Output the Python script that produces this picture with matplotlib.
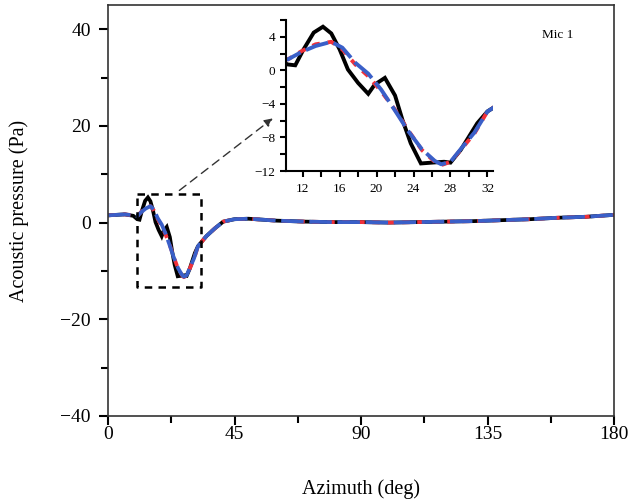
import matplotlib.pyplot as plt
from matplotlib.ticker import MultipleLocator

plt.rcParams['font.family'] = ['Liberation Serif', 'DejaVu Serif']

# azimuth grid (deg)
azimuth = [0, 3, 6, 9, 10.4, 11.2, 12.1, 13.2, 14.2, 15.1, 16.0, 16.9, 18.0, 19.1, 19.8,
           20.9, 22.0, 22.8, 23.7, 24.8, 26.0, 27.3, 28.0, 29.1, 30.0, 30.9, 32.0, 33,
           35, 38, 41, 45, 50, 60, 70, 80, 90, 100, 110, 120, 130, 140, 150, 160, 170, 180]
# measured (black)
p_meas = [1.5, 1.6, 1.7, 1.4, 0.7, 0.6, 2.5, 4.5, 5.2, 4.4, 2.5, 0.1, -1.5, -2.8, -1.7,
          -0.9, -3.0, -5.9, -8.7, -11.1, -11.0, -10.9, -11.0, -9.5, -7.9, -6.3, -4.9, -4.2,
          -2.8, -1.2, 0.2, 0.7, 0.8, 0.4, 0.2, 0.1, 0.1, 0.0, 0.1, 0.2, 0.3, 0.5, 0.7, 1.0, 1.2, 1.6]

# simulations (red / blue)
azimuth_sim = [0, 3, 6, 9, 10.4, 11.9, 13.4, 15.1, 16.3, 17.7, 19.1, 20.5, 22.0, 23.4,
               24.9, 26.3, 27.0, 28.0, 29.1, 30.6, 32.0, 33, 35, 38, 41, 45, 50, 60, 70,
               80, 90, 100, 110, 120, 130, 140, 150, 160, 170, 180]
p_red = [1.5, 1.6, 1.7, 1.5, 1.3, 2.3, 3.1, 3.4, 2.5, 0.7, -0.7, -2.5, -4.7, -7.1,
         -9.5, -10.9, -11.3, -10.9, -9.5, -7.5, -4.9, -4.2, -2.8, -1.2, 0.2, 0.7, 0.8,
         0.4, 0.2, 0.1, 0.1, 0.0, 0.1, 0.2, 0.3, 0.5, 0.7, 1.0, 1.2, 1.6]
p_blue = [1.5, 1.6, 1.7, 1.5, 1.3, 2.2, 2.9, 3.4, 2.7, 0.9, -0.4, -2.3, -4.8, -7.2,
          -9.4, -10.8, -11.2, -10.9, -9.4, -7.4, -4.9, -4.2, -2.8, -1.2, 0.2, 0.7, 0.8,
          0.4, 0.2, 0.1, 0.1, 0.0, 0.1, 0.2, 0.3, 0.5, 0.7, 1.0, 1.2, 1.6]

red = '#f0303a'
blue = '#3a5fc8'

fig = plt.figure(figsize=(6.31, 5.04), dpi=100)
ax = fig.add_axes([108 / 631, 1 - 416 / 504, (614 - 108) / 631, (416 - 5) / 504])

def draw(a, lw):
    a.plot(azimuth, p_meas, color='black', lw=lw, solid_joinstyle='miter')
    a.plot(azimuth_sim, p_red, color=red, lw=lw, ls=(0, (2, 2)))
    a.plot(azimuth_sim, p_blue, color=blue, lw=lw, ls=(0, (6, 1.5)))

draw(ax, 2.7)
ax.set_xlim(0, 180)
ax.set_ylim(-40, 45)
ax.xaxis.set_major_locator(MultipleLocator(45))
ax.xaxis.set_minor_locator(MultipleLocator(22.5))
ax.set_yticks([-40, -20, 0, 20, 40])
ax.yaxis.set_minor_locator(MultipleLocator(10))
ax.tick_params(which='major', direction='out', length=6.5, width=1.5, labelsize=14)
ax.tick_params(which='minor', direction='out', length=5, width=1.5)
ax.tick_params(axis='x', pad=1)
ax.tick_params(axis='y', pad=6)
for s in ax.spines.values():
    s.set_linewidth(1.2)
    s.set_color('#333333')
ax.set_xlabel('Azimuth (deg)', fontsize=14.5, labelpad=26)
ax.set_ylabel('Acoustic pressure (Pa)', fontsize=14.5, labelpad=22)

# zoom box and arrow
ax.plot([10.3, 33.1, 33.1, 10.3, 10.3], [6.0, 6.0, -13.3, -13.3, 6.0],
        color='black', lw=1.8, ls=(0, (3, 2.5)))
ax.annotate('', xy=(59.4, 21.9), xytext=(24.6, 6.3),
            arrowprops=dict(arrowstyle='-|>', color='#333333', lw=1, ls=(0, (6, 4)),
                            mutation_scale=12))

# inset
axin = fig.add_axes([286 / 631, 1 - 171 / 504, (493 - 286) / 631, (171 - 20) / 504])
draw(axin, 2.8)
axin.set_xlim(10.2, 32.6)
axin.set_ylim(-12, 6)
axin.xaxis.set_major_locator(MultipleLocator(4))
axin.xaxis.set_minor_locator(MultipleLocator(2))
axin.set_yticks([-12, -8, -4, 0, 4])
axin.yaxis.set_minor_locator(MultipleLocator(2))
axin.tick_params(which='both', direction='out', length=4, width=1.5, labelsize=9.5)
axin.tick_params(axis='x', pad=5)
axin.spines['top'].set_visible(False)
axin.spines['right'].set_visible(False)
for s in ('left', 'bottom'):
    axin.spines[s].set_linewidth(1.5)
axin.patch.set_alpha(0)
fig.text(558 / 631, 1 - 35 / 504, 'Mic 1', fontsize=9.5, ha='center', va='center')

fig.savefig('out.png', dpi=100)
